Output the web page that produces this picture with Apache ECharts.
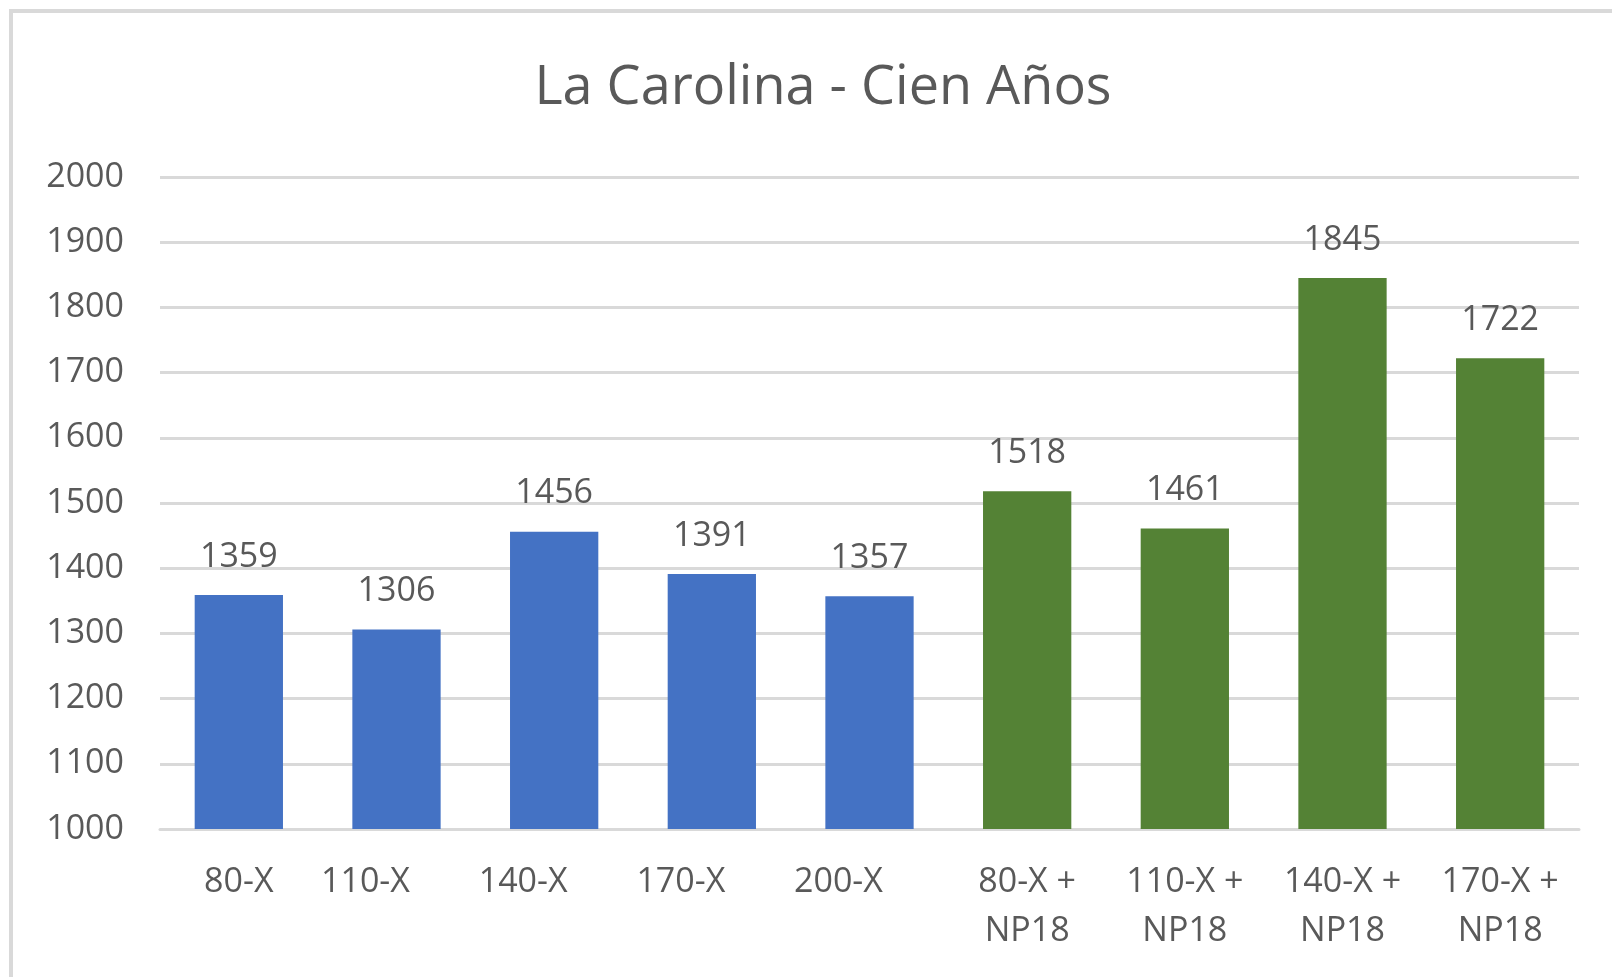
<!DOCTYPE html>
<html>
<head>
<meta charset="utf-8">
<title>La Carolina - Cien Años</title>
<script src="https://cdn.jsdelivr.net/npm/echarts@6/dist/echarts.min.js"></script>
<style>
  html, body { margin: 0; padding: 0; background: #fff; }
  #chart { width: 1612px; height: 977px; }
</style>
</head>
<body>
<div id="chart"></div>
<script>
  // categories and values
  const baseCategories = ['80-X', '110-X', '140-X', '170-X', '200-X'];
  const np18Categories = ['80-X +\nNP18', '110-X +\nNP18', '140-X +\nNP18', '170-X +\nNP18'];
  const baseValues = [1359, 1306, 1456, 1391, 1357];
  const np18Values = [1518, 1461, 1845, 1722];
  const yTicks = [1000, 1100, 1200, 1300, 1400, 1500, 1600, 1700, 1800, 1900, 2000];

  const blue = '#4472C4';
  const green = '#548235';
  const textColor = '#595959';
  const fontFamily = '"Open Sans", "Noto Sans", sans-serif';

  const chart = echarts.init(document.getElementById('chart'));

  const seriesData = baseValues
    .map((v) => ({ value: v, itemStyle: { color: blue } }))
    .concat(np18Values.map((v) => ({ value: v, itemStyle: { color: green } })));

  chart.setOption({
    animation: false,
    textStyle: { fontFamily },
    graphic: [
      {
        type: 'rect',
        shape: { x: 11, y: 11, width: 1640, height: 1000 },
        style: { fill: 'none', stroke: '#d9d9d9', lineWidth: 4 },
        z: -1,
      },
    ],
    title: {
      text: 'La Carolina - Cien Años',
      left: 818,
      textAlign: 'center',
      top: 57,
      textStyle: {
        color: textColor,
        fontSize: 54,
        fontWeight: 'normal',
        fontFamily,
      },
    },
    grid: {
      left: 160,
      right: 33,
      top: 177,
      bottom: 148,
    },
    xAxis: {
      type: 'category',
      data: baseCategories.concat(np18Categories),
      axisTick: { show: false },
      axisLine: { lineStyle: { color: '#d9d9d9', width: 3 } },
      axisLabel: {
        color: textColor,
        fontSize: 34,
        lineHeight: 49,
        margin: 29,
        interval: 0,
        fontFamily,
        // the single-line labels after the first sit a little left of their bars
        formatter: (value, index) =>
          index > 0 && index < baseCategories.length ? `{shift|${value}}` : value,
        rich: {
          shift: {
            color: textColor,
            fontSize: 34,
            lineHeight: 49,
            fontFamily,
            padding: [0, 62, 0, 0],
          },
        },
      },
    },
    yAxis: {
      type: 'value',
      min: yTicks[0],
      max: yTicks[yTicks.length - 1],
      interval: yTicks[1] - yTicks[0],
      axisLine: { show: false },
      axisTick: { show: false },
      splitLine: { lineStyle: { color: '#d9d9d9', width: 3 } },
      axisLabel: {
        color: textColor,
        fontSize: 34,
        margin: 36,
        fontFamily,
        formatter: (v) => String(v),
      },
    },
    series: [
      {
        type: 'bar',
        data: seriesData,
        barWidth: '56%',
        label: {
          show: true,
          position: 'top',
          distance: 21,
          color: textColor,
          fontSize: 34,
          fontFamily,
        },
      },
    ],
  });
</script>
</body>
</html>
